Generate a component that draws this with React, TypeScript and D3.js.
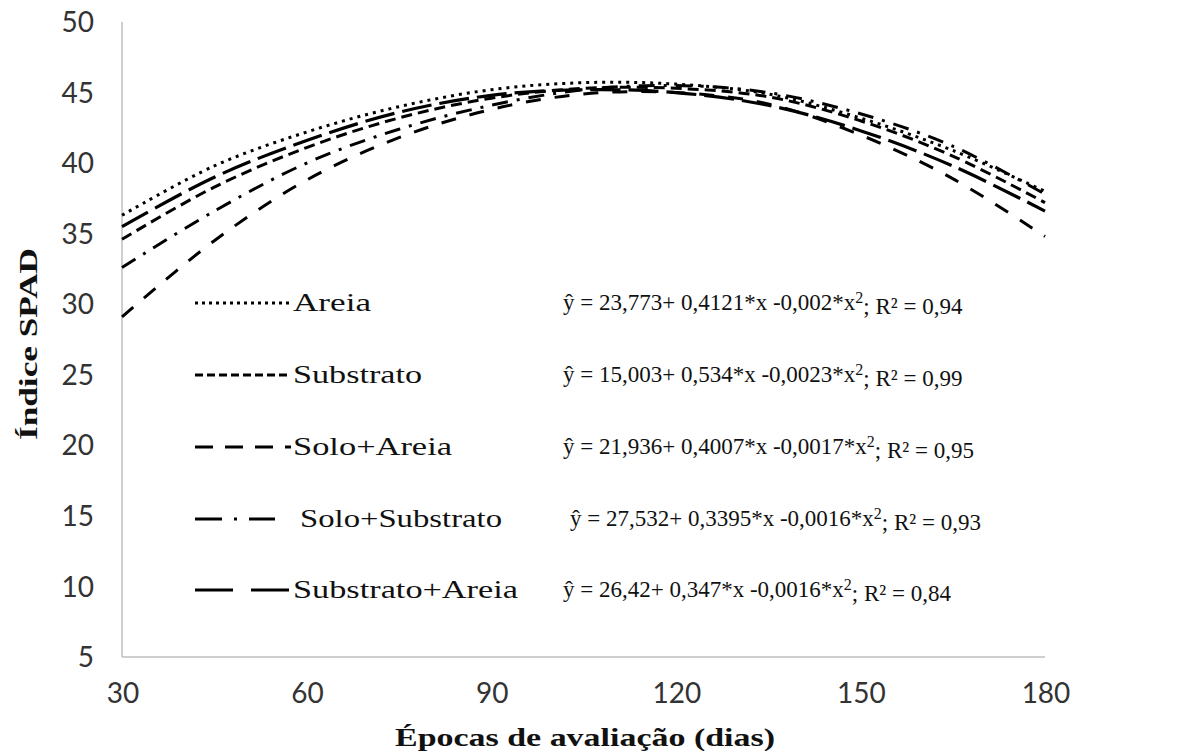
import React from "react";
import * as d3 from "d3";

const days = [30, 45, 60, 75, 90, 105, 120, 135, 150, 165, 180];
const dottedSeries = [36.3, 39.8, 42.2, 44.0, 45.2, 45.7, 45.6, 44.9, 43.2, 40.9, 38.0];
const longDashSeries = [35.5, 39.0, 41.6, 43.6, 44.8, 45.2, 45.0, 44.1, 42.3, 39.8, 36.6];
const shortDashSeries = [34.6, 38.3, 41.1, 43.2, 44.6, 45.3, 45.3, 44.7, 43.0, 40.5, 37.2];
const dashDotSeries = [32.6, 36.6, 40.0, 42.4, 44.1, 45.2, 45.5, 45.0, 43.5, 41.2, 37.8];
const mediumDashSeries = [29.1, 34.5, 38.8, 41.8, 43.8, 44.9, 45.0, 44.2, 42.0, 38.9, 34.8];

const xTicks = [30, 60, 90, 120, 150, 180];
const yTicks = [5, 10, 15, 20, 25, 30, 35, 40, 45, 50];

const legendNames = ["Areia", "Substrato", "Solo+Areia", "Solo+Substrato", "Substrato+Areia"];
const legendEq = [
  ["ŷ = 23,773+ 0,4121*x -0,002*x", "; R² = 0,94"],
  ["ŷ = 15,003+ 0,534*x -0,0023*x", "; R² = 0,99"],
  ["ŷ = 21,936+ 0,4007*x -0,0017*x", "; R² = 0,95"],
  ["ŷ = 27,532+ 0,3395*x -0,0016*x", "; R² = 0,93"],
  ["ŷ = 26,42+ 0,347*x -0,0016*x", "; R² = 0,84"],
];

const W = 1184;
const H = 751;
const x = d3.scaleLinear().domain([30, 180]).range([122, 1045]);
const y = d3.scaleLinear().domain([5, 50]).range([657, 22]);

const SERIF = "'Liberation Serif', 'Times New Roman', 'DejaVu Serif', serif";
const SANS = "Lato, 'Open Sans', sans-serif";

const plotSeries = [
  { values: dottedSeries, dash: "3,5", width: 3 },
  { values: longDashSeries, dash: "30,8", width: 3.2 },
  { values: shortDashSeries, dash: "11,6", width: 3 },
  { values: dashDotSeries, dash: "16,9,3,9", width: 3 },
  { values: mediumDashSeries, dash: "15,14", width: 3 },
];

const legendStyles = [
  { dash: "3,4", width: 3, len: 95, lx: 195 },
  { dash: "8,4", width: 3, len: 95, lx: 195 },
  { dash: "18,12", width: 3.2, len: 96, lx: 195 },
  { dash: "27,12,3,12", width: 3.2, len: 80, lx: 195 },
  { dash: "38,18", width: 3.2, len: 96, lx: 195 },
];
const legendTextX = [293, 293, 293, 300, 293];
const legendTextLen = [78, 129, 159, 202, 225];
const legendEqX = [563, 563, 563, 570, 563];
const legendY = [303, 375, 447, 519, 590];

export default function App() {
  const line = d3
    .line<number>()
    .x((_, i) => x(days[i]))
    .y((v) => y(v))
    .curve(d3.curveCatmullRom.alpha(0.5));

  return (
    <svg
      width={W}
      height={H}
      style={{ position: "absolute", left: 0, top: 0, background: "#fff" }}
    >
      <rect x={0} y={0} width={W} height={H} fill="#fff" />
      <line x1={x(30)} x2={x(30)} y1={y(50)} y2={y(5)} stroke="#bfbfbf" strokeWidth={1.5} />
      <line x1={x(30)} x2={x(180)} y1={y(5)} y2={y(5)} stroke="#bfbfbf" strokeWidth={1.5} />
      {yTicks.map((t) => (
        <text
          key={"y" + t}
          x={94}
          y={y(t)}
          dy="0.36em"
          textAnchor="end"
          style={{ fontFamily: SANS }}
          fontSize={28}
          fill="#333"
        >
          {t}
        </text>
      ))}
      {xTicks.map((t) => (
        <text
          key={"x" + t}
          x={x(t) + 1}
          y={693}
          dy="0.36em"
          textAnchor="middle"
          style={{ fontFamily: SANS }}
          fontSize={28}
          fill="#333"
        >
          {t}
        </text>
      ))}
      <text
        x={395}
        y={737}
        dy="0.35em"
        textLength={380}
        lengthAdjust="spacingAndGlyphs"
        style={{ fontFamily: SERIF }}
        fontWeight="bold"
        fontSize={26}
        fill="#111"
      >
        Épocas de avaliação (dias)
      </text>
      <text
        transform={`translate(28,440) rotate(-90)`}
        dy="0.35em"
        textLength={192}
        lengthAdjust="spacingAndGlyphs"
        style={{ fontFamily: SERIF }}
        fontWeight="bold"
        fontSize={26}
        fill="#111"
      >
        Índice SPAD
      </text>
      {plotSeries.map((s, i) => (
        <path
          key={"s" + i}
          d={line(s.values) || ""}
          fill="none"
          stroke="#000"
          strokeWidth={s.width}
          strokeDasharray={s.dash}
        />
      ))}
      {legendNames.map((n, i) => (
        <g key={"l" + i}>
          <line
            x1={legendStyles[i].lx}
            x2={legendStyles[i].lx + legendStyles[i].len}
            y1={legendY[i]}
            y2={legendY[i]}
            stroke="#000"
            strokeWidth={legendStyles[i].width}
            strokeDasharray={legendStyles[i].dash}
          />
          <text
            x={legendTextX[i]}
            y={legendY[i]}
            dy="0.32em"
            textLength={legendTextLen[i]}
            lengthAdjust="spacingAndGlyphs"
            style={{ fontFamily: SERIF }}
            fontSize={26}
            fill="#111"
          >
            {n}
          </text>
          <text
            x={legendEqX[i]}
            y={legendY[i]}
            dy="0.32em"
            style={{ fontFamily: SERIF }}
            fontSize={23}
            fill="#111"
          >
            {legendEq[i][0]}
            <tspan dy="-0.45em" fontSize={16}>2</tspan>
            <tspan dy="0.45em">{legendEq[i][1]}</tspan>
          </text>
        </g>
      ))}
    </svg>
  );
}
